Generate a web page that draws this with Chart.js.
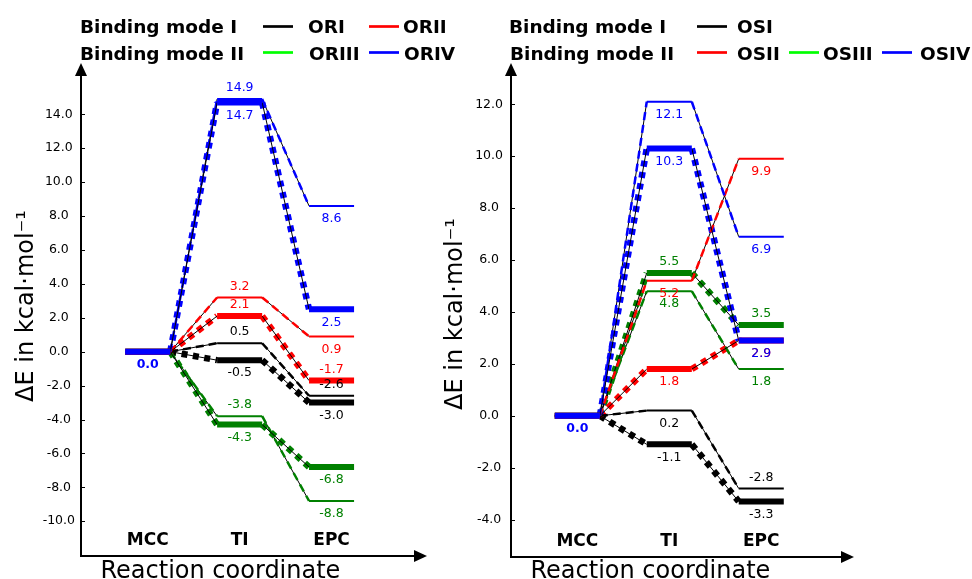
<!DOCTYPE html>
<html>
<head>
<meta charset="utf-8">
<script src="https://cdn.jsdelivr.net/npm/chart.js@4.4.0/dist/chart.umd.min.js"></script>
<style>
  body { margin: 0; background: #fff; width: 972px; height: 579px; overflow: hidden; position: relative; }
  .panel { position: absolute; top: 0; height: 579px; }
  #orPanel { left: 0; width: 486px; }
  #osPanel { left: 430px; width: 542px; }
</style>
</head>
<body>
<div class="panel" id="orPanel"><canvas id="orChart"></canvas></div>
<div class="panel" id="osPanel"><canvas id="osChart"></canvas></div>
<script>
// --- Data ---
const stages = ['MCC', 'TI', 'EPC'];

// OR complexes (first profile = thin line, second = thick level)
const orTicks = [-10, -8, -6, -4, -2, 0, 2, 4, 6, 8, 10, 12, 14];
const oriThin = [0.0, 0.5, -2.6];
const oriThick = [0.0, -0.5, -3.0];
const oriiThin = [0.0, 3.2, 0.9];
const oriiThick = [0.0, 2.1, -1.7];
const oriiiThin = [0.0, -3.8, -8.8];
const oriiiThick = [0.0, -4.3, -6.8];
const orivThin = [0.0, 14.9, 8.6];
const orivThick = [0.0, 14.7, 2.5];

// OS complexes
const osTicks = [-4, -2, 0, 2, 4, 6, 8, 10, 12];
const osiThin = [0.0, 0.2, -2.8];
const osiThick = [0.0, -1.1, -3.3];
const osiiThin = [0.0, 5.2, 9.9];
const osiiThick = [0.0, 1.8, 2.9];
const osiiiThin = [0.0, 4.8, 1.8];
const osiiiThick = [0.0, 5.5, 3.5];
const osivThin = [0.0, 12.1, 6.9];
const osivThick = [0.0, 10.3, 2.9];

const orLegendNames = [['ORI', 'ORII'], ['ORIII', 'ORIV']];
const osLegendNames = [['OSI'], ['OSII', 'OSIII', 'OSIV']];
const modeNames = ['Binding mode I', 'Binding mode II'];

// --- Colours & styles ---
const BLACK = '#000000', RED = '#ff0000', GREEN = '#008000', BLUE = '#0000ff', LIME = '#00ff00';
const FONT = "'DejaVu Sans'";
const LEVEL_HALF = 0.245;

Chart.defaults.font.family = FONT;
Chart.defaults.color = '#000';

// which side of the level each value label sits on ('' = none)
const orProfiles = [
  { values: orivThick, color: BLUE, thick: true, sides: ['down', 'down', 'down'] },
  { values: orivThin, color: BLUE, thick: false, sides: ['', 'up', 'down'] },
  { values: oriiThick, color: RED, thick: true, sides: ['', 'up', 'up'] },
  { values: oriiThin, color: RED, thick: false, sides: ['', 'up', 'down'] },
  { values: oriThick, color: BLACK, thick: true, sides: ['', 'down', 'down'] },
  { values: oriThin, color: BLACK, thick: false, sides: ['', 'up', 'up'] },
  { values: oriiiThick, color: GREEN, thick: true, sides: ['', 'down', 'down'] },
  { values: oriiiThin, color: GREEN, thick: false, sides: ['', 'up', 'down'] }
];

const osProfiles = [
  { values: osivThick, color: BLUE, thick: true, sides: ['down', 'down', 'down'] },
  { values: osivThin, color: BLUE, thick: false, sides: ['', 'down', 'down'] },
  { values: osiiThick, color: RED, thick: true, sides: ['', 'down', 'down'] },
  { values: osiiThin, color: RED, thick: false, sides: ['', 'down', 'down'] },
  { values: osiiiThick, color: GREEN, thick: true, sides: ['', 'up', 'up'] },
  { values: osiiiThin, color: GREEN, thick: false, sides: ['', 'down', 'down'] },
  { values: osiThick, color: BLACK, thick: true, sides: ['', 'down', 'down'] },
  { values: osiThin, color: BLACK, thick: false, sides: ['', 'down', 'up'] }
];

function levelPoints(values) {
  const pts = [];
  values.forEach((v, i) => {
    pts.push({ x: i - LEVEL_HALF, y: v }, { x: i + LEVEL_HALF, y: v }, { x: i + LEVEL_HALF, y: null });
  });
  return pts;
}

function connectorPoints(values) {
  const pts = [];
  for (let i = 0; i < values.length - 1; i++) {
    pts.push({ x: i + LEVEL_HALF, y: values[i] }, { x: i + 1 - LEVEL_HALF, y: values[i + 1] }, { x: i + 1 - LEVEL_HALF, y: null });
  }
  return pts;
}

// thin profiles: coloured dashes over a black hairline
// thick profiles: black hairline over coloured square dots
function buildDatasets(profiles) {
  const sets = [];
  profiles.forEach(p => {
    sets.push({ data: levelPoints(p.values), borderColor: p.color, borderWidth: p.thick ? 6 : 2, order: 1 });
    sets.push({ data: connectorPoints(p.values), borderColor: BLACK, borderWidth: 1, order: p.thick ? 2 : 4 });
    sets.push({
      data: connectorPoints(p.values), borderColor: p.color,
      borderWidth: p.thick ? 6.5 : 2.5, borderDash: p.thick ? [6, 5.5] : [8, 5], order: p.thick ? 3 : 2
    });
  });
  return sets;
}

function makeOverlay(panel) {
  return {
    id: 'overlay_' + panel.key,
    afterDraw(chart) {
      const { ctx, chartArea: area } = chart;
      const xs = chart.scales.x, ys = chart.scales.y;
      ctx.save();

      // axis arrow heads
      ctx.fillStyle = BLACK;
      ctx.beginPath();
      ctx.moveTo(area.left - 6, area.top + 1);
      ctx.lineTo(area.left + 6, area.top + 1);
      ctx.lineTo(area.left, area.top - 12);
      ctx.closePath();
      ctx.fill();
      ctx.beginPath();
      ctx.moveTo(area.right - 1, area.bottom - 6);
      ctx.lineTo(area.right - 1, area.bottom + 6);
      ctx.lineTo(area.right + 12, area.bottom);
      ctx.closePath();
      ctx.fill();

      // small inward tick marks
      ctx.strokeStyle = BLACK;
      ctx.lineWidth = 1;
      panel.ticks.forEach(t => {
        const py = Math.round(ys.getPixelForValue(t)) + 0.5;
        ctx.beginPath();
        ctx.moveTo(area.left, py);
        ctx.lineTo(area.left + 4, py);
        ctx.stroke();
      });

      // value labels
      ctx.textAlign = 'center';
      ctx.textBaseline = 'middle';
      [...panel.profiles].reverse().forEach(p => {
        p.values.forEach((v, i) => {
          const side = p.sides[i];
          if (!side) return;
          const py = ys.getPixelForValue(v) + (side === 'up' ? -11 : 13);
          ctx.font = (i === 0 ? 'bold ' : '') + '12.5px ' + FONT;
          ctx.fillStyle = p.color;
          ctx.fillText(v.toFixed(1), xs.getPixelForValue(i), py);
        });
      });

      // stage names
      ctx.font = 'bold 17px ' + FONT;
      ctx.fillStyle = BLACK;
      stages.forEach((s, i) => ctx.fillText(s, xs.getPixelForValue(i), area.bottom - 15));

      // axis titles
      ctx.font = '24px ' + FONT;
      ctx.textAlign = 'left';
      ctx.textBaseline = 'alphabetic';
      ctx.fillText('Reaction coordinate', area.left + 19.5, 578);
      ctx.save();
      ctx.translate(panel.titleX, panel.titleY);
      ctx.rotate(-Math.PI / 2);
      ctx.textAlign = 'center';
      ctx.fillText('ΔE in kcal·mol⁻¹', 0, 0);
      ctx.restore();

      // legend
      ctx.font = 'bold 18.5px ' + FONT;
      panel.legend.forEach((row, r) => {
        const base = [32.5, 59.5][r];
        const lineY = [26.5, 52.5][r];
        ctx.fillStyle = BLACK;
        ctx.fillText(modeNames[r], row.titleX, base);
        row.names.forEach((name, k) => {
          ctx.strokeStyle = row.colors[k];
          ctx.lineWidth = 2.7;
          ctx.beginPath();
          ctx.moveTo(row.lineX[k], lineY);
          ctx.lineTo(row.lineX[k] + 30, lineY);
          ctx.stroke();
          ctx.fillStyle = BLACK;
          ctx.fillText(name, row.textX[k], base);
        });
      });
      ctx.restore();
    }
  };
}

function makeChart(canvasId, panel) {
  const ticks = panel.ticks;
  return new Chart(document.getElementById(canvasId), {
    type: 'line',
    data: { datasets: buildDatasets(panel.profiles) },
    options: {
      responsive: true,
      maintainAspectRatio: false,
      animation: false,
      layout: { padding: panel.padding },
      elements: {
        point: { radius: 0, hoverRadius: 0 },
        line: { tension: 0, fill: false, borderCapStyle: 'butt', borderJoinStyle: 'miter' }
      },
      plugins: { legend: { display: false }, tooltip: { enabled: false } },
      events: [],
      scales: {
        x: {
          type: 'linear', min: panel.xMin, max: panel.xMax,
          grid: { display: false },
          ticks: { display: false },
          border: { color: BLACK, width: 2 },
          afterFit: s => { s.height = 0; }
        },
        y: {
          type: 'linear', min: panel.yMin, max: panel.yMax,
          grid: { drawOnChartArea: false, drawTicks: false },
          border: { color: BLACK, width: 2 },
          ticks: {
            color: BLACK, padding: panel.tickPad, crossAlign: 'center',
            font: { size: 12.5 },
            callback: v => v.toFixed(1)
          },
          afterBuildTicks: s => { s.ticks = ticks.map(v => ({ value: v })); },
          afterFit: s => { s.width = panel.axisLeft; }
        }
      }
    },
    plugins: [makeOverlay(panel)]
  });
}

makeChart('orChart', {
  key: 'or', profiles: orProfiles, ticks: orTicks,
  xMin: -0.726, xMax: 2.908, yMin: -12.05, yMax: 16.32,
  axisLeft: 81, tickPad: 6,
  padding: { left: 0, top: 75, right: 71, bottom: 23 },
  titleX: 33, titleY: 306,
  legend: [
    { titleX: 80, names: orLegendNames[0], colors: [BLACK, RED], lineX: [263, 369], textX: [308, 403] },
    { titleX: 80, names: orLegendNames[1], colors: [LIME, BLUE], lineX: [263, 369], textX: [309, 404] }
  ]
});

makeChart('osChart', {
  key: 'os', profiles: osProfiles, ticks: osTicks,
  xMin: -0.721, xMax: 2.878, yMin: -5.44, yMax: 13.13,
  axisLeft: 81, tickPad: 8,
  padding: { left: 0, top: 75, right: 130, bottom: 22 },
  titleX: 32, titleY: 314,
  legend: [
    { titleX: 79, names: osLegendNames[0], colors: [BLACK], lineX: [267], textX: [307] },
    { titleX: 80, names: osLegendNames[1], colors: [RED, LIME, BLUE], lineX: [267, 359, 452], textX: [307, 393, 490] }
  ]
});
</script>
</body>
</html>
